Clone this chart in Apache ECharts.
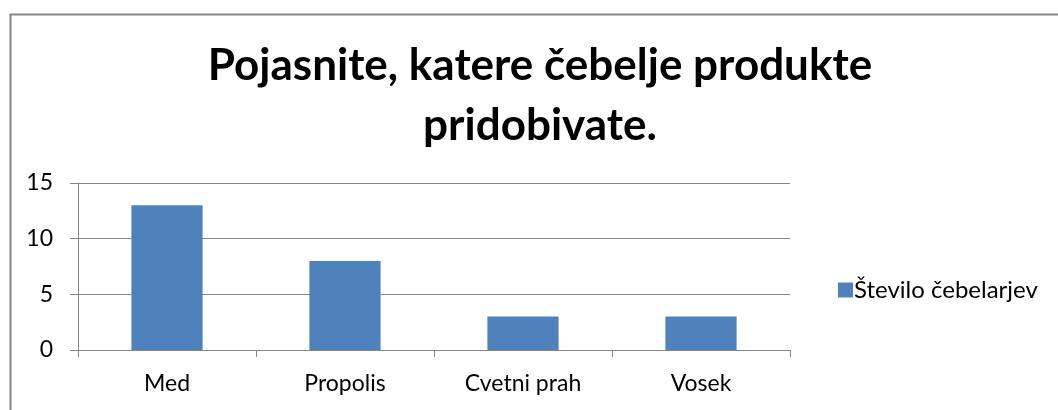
<!DOCTYPE html>
<html><head><meta charset="utf-8">
<script src="https://cdn.jsdelivr.net/npm/echarts@6/dist/echarts.min.js"></script>
<style>html,body{margin:0;padding:0;background:#fff}#c{width:1058px;height:410px}</style>
</head><body><div id="c"></div>
<script>
const titleText = 'Pojasnite, katere čebelje produkte\npridobivate.';
const categories = ['Med', 'Propolis', 'Cvetni prah', 'Vosek'];
const seriesName = 'Število čebelarjev';
const values = [13, 8, 3, 3];
const yTicks = [0, 5, 10, 15];

const FONT = 'Lato';
const chart = echarts.init(document.getElementById('c'), null, {renderer: 'canvas'});
chart.setOption({
  animation: false,
  backgroundColor: '#fff',
  graphic: [{
    type: 'rect', left: 8, top: 12, silent: true,
    shape: {width: 1200, height: 600},
    style: {fill: 'none', stroke: '#868686', lineWidth: 2}
  }],
  title: {
    text: titleText, left: 535, top: 31, textAlign: 'center',
    textStyle: {fontFamily: FONT, fontWeight: 'bold', fontSize: 44, lineHeight: 60, color: '#000'}
  },
  legend: {
    data: [seriesName], left: 833, top: 273, orient: 'vertical',
    icon: 'rect', itemWidth: 15, itemHeight: 15, itemGap: 6,
    textStyle: {fontFamily: FONT, fontSize: 24, color: '#000', padding: [0,0,0,-4]}
  },
  grid: {left: 78, right: 268, top: 183, bottom: 60, containLabel: false},
  xAxis: {
    type: 'category', data: categories,
    axisLine: {lineStyle: {color: '#868686', width: 1}},
    axisTick: {show: true, alignWithLabel: false, length: 7, lineStyle: {color: '#868686'}},
    axisLabel: {fontFamily: FONT, fontSize: 23, color: '#000', margin: 22}
  },
  yAxis: {
    type: 'value', min: 0, max: yTicks[yTicks.length-1], interval: 5,
    axisLine: {show: true, lineStyle: {color: '#868686', width: 1}},
    axisTick: {show: true, length: 8, lineStyle: {color: '#868686'}},
    splitLine: {lineStyle: {color: '#868686', width: 1}},
    axisLabel: {fontFamily: FONT, fontSize: 23, color: '#000', margin: 25}
  },
  series: [{
    name: seriesName, type: 'bar', data: values, barWidth: '40%',
    itemStyle: {color: '#4F81BD'}
  }]
});
</script></body></html>
